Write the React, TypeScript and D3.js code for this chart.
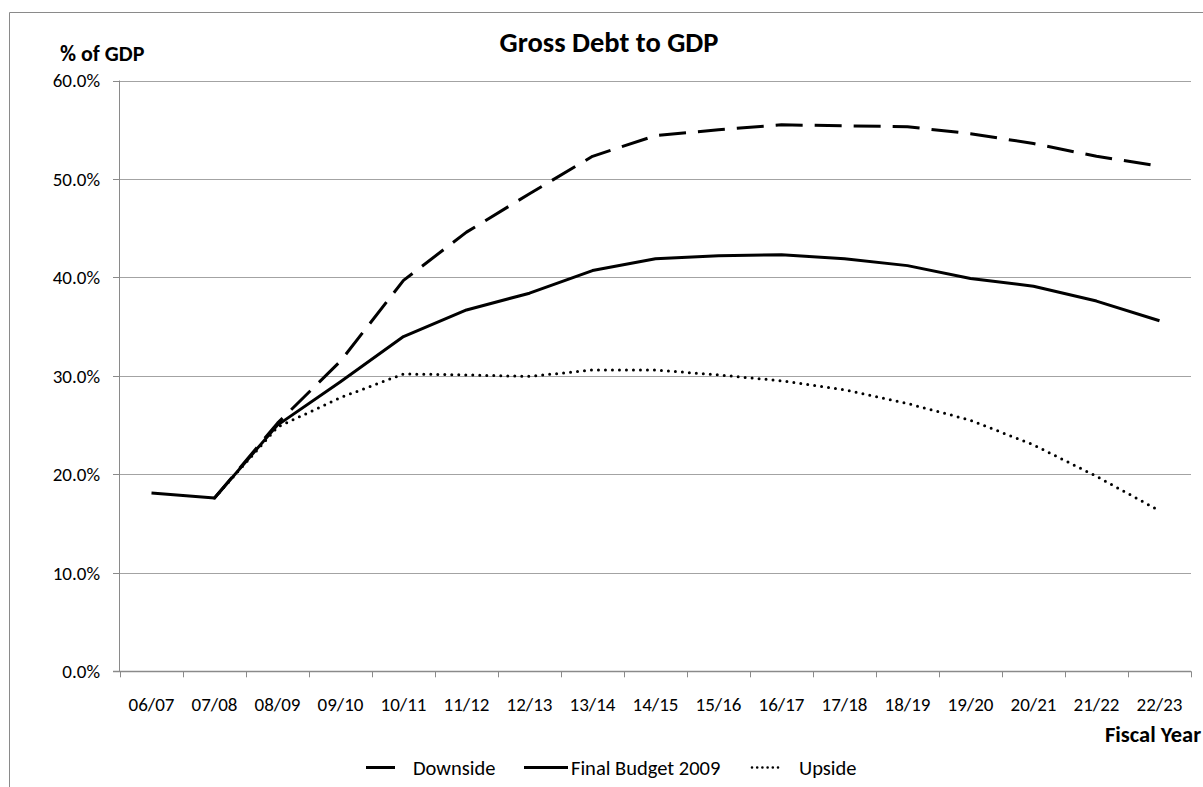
import React from "react";
import * as d3 from "d3";

// Fiscal years on the category axis
const years = [
  "06/07", "07/08", "08/09", "09/10", "10/11", "11/12", "12/13", "13/14", "14/15",
  "15/16", "16/17", "17/18", "18/19", "19/20", "20/21", "21/22", "22/23",
];

// Gross debt as % of GDP for each scenario (null = no value for that year)
const downside: (number | null)[] = [
  null, 17.6, 25.2, 31.5, 39.7, 44.6, 48.5, 52.3, 54.4, 55.0, 55.5, 55.4, 55.3, 54.6, 53.6, 52.3, 51.3,
];
const finalBudget: (number | null)[] = [
  18.1, 17.6, 25.0, 29.4, 34.0, 36.7, 38.4, 40.7, 41.9, 42.2, 42.3, 41.9, 41.2, 39.9, 39.1, 37.6, 35.6,
];
const upside: (number | null)[] = [
  null, 17.6, 24.8, 27.8, 30.2, 30.1, 29.95, 30.6, 30.6, 30.1, 29.5, 28.6, 27.2, 25.5, 23.0, 19.8, 16.3,
];

const yTicks = [0, 10, 20, 30, 40, 50, 60];

const seriesNames = ["Downside", "Final Budget 2009", "Upside"];

const FONT = "Carlito, Calibri, Lato, sans-serif";

export default function App() {
  const W = 1203;
  const H = 787;
  const left = 120;
  const right = 1191;
  const top = 80.5;
  const bottom = 671.3;

  const x = d3.scaleBand<string>().domain(years).range([left, right]).padding(0);
  const y = d3.scaleLinear().domain([0, 60]).range([bottom, top]);
  const cx = (yr: string) => (x(yr) ?? 0) + x.bandwidth() / 2;

  const line = d3
    .line<number | null>()
    .defined((d) => d !== null)
    .x((_, i) => cx(years[i]))
    .y((d) => y(d as number));

  const fmt = d3.format(".1f");
  const gridColor = "#a3a3a3";
  const axisColor = "#8a8a8a";

  const styles = [
    { name: seriesNames[0], data: downside, dash: "27 12", cap: "butt" as const },
    { name: seriesNames[1], data: finalBudget, dash: undefined, cap: "butt" as const },
    { name: seriesNames[2], data: upside, dash: "0 7", cap: "round" as const },
  ];

  const boundaries = d3.range(years.length + 1).map((i) => left + i * x.bandwidth());

  return (
    <svg
      width={W}
      height={H}
      style={{ position: "absolute", left: 0, top: 0, background: "#fff" }}
      fontFamily={FONT}
    >
      <rect x={0} y={0} width={W} height={H} fill="#fff" />
      {/* chart frame */}
      <path d={`M9.5,${H + 2} V12.5 H${W + 2}`} fill="none" stroke={axisColor} strokeWidth={1} />

      <text x={609} y={52} textAnchor="middle" fontSize={28.5} fontWeight="bold" fill="#000">
        Gross Debt to GDP
      </text>
      <text x={60} y={61} fontSize={22} fontWeight="bold" fill="#000">
        % of GDP
      </text>

      {/* horizontal gridlines */}
      {yTicks.filter((t) => t > 0).map((t) => (
        <line key={t} x1={left} x2={right} y1={Math.round(y(t)) + 0.5} y2={Math.round(y(t)) + 0.5} stroke={gridColor} strokeWidth={1} />
      ))}

      {/* y axis */}
      <line x1={left - 0.5} x2={left - 0.5} y1={top} y2={bottom} stroke={axisColor} strokeWidth={1} />
      {yTicks.map((t) => (
        <g key={t}>
          <line x1={113} x2={left} y1={Math.round(y(t)) + 0.5} y2={Math.round(y(t)) + 0.5} stroke={axisColor} />
          <text x={100} y={y(t)} dy="0.36em" textAnchor="end" fontSize={19} fill="#000">
            {fmt(t)}%
          </text>
        </g>
      ))}

      {/* x axis */}
      <line x1={113} x2={right} y1={Math.round(bottom) + 0.5} y2={Math.round(bottom) + 0.5} stroke={axisColor} strokeWidth={1.5} />
      {boundaries.map((b, i) => (
        <line key={i} x1={Math.round(b) + 0.5} x2={Math.round(b) + 0.5} y1={bottom} y2={bottom + 6} stroke={axisColor} />
      ))}
      {years.map((yr) => (
        <text key={yr} x={cx(yr)} y={711} textAnchor="middle" fontSize={19} fill="#000">
          {yr}
        </text>
      ))}
      <text x={1105} y={742} fontSize={22.5} fontWeight="bold" fill="#000">
        Fiscal Year
      </text>

      {/* series */}
      {styles.map((s) => (
        <path
          key={s.name}
          d={line(s.data) ?? ""}
          fill="none"
          stroke="#000"
          strokeWidth={3}
          strokeDasharray={s.dash}
          strokeLinecap={s.cap}
          strokeLinejoin="round"
        />
      ))}

      {/* legend */}
      <g fontSize={20.5} fill="#000">
        <line x1={366} x2={395} y1={767.5} y2={767.5} stroke="#000" strokeWidth={3} />
        <text x={413} y={775}>{seriesNames[0]}</text>
        <line x1={524} x2={568} y1={767.5} y2={767.5} stroke="#000" strokeWidth={3} />
        <text x={571} y={775}>{seriesNames[1]}</text>
        <line x1={752} x2={778} y1={767.5} y2={767.5} stroke="#000" strokeWidth={2.6} strokeDasharray="0 5.2" strokeLinecap="round" />
        <text x={799} y={775}>{seriesNames[2]}</text>
      </g>
    </svg>
  );
}
